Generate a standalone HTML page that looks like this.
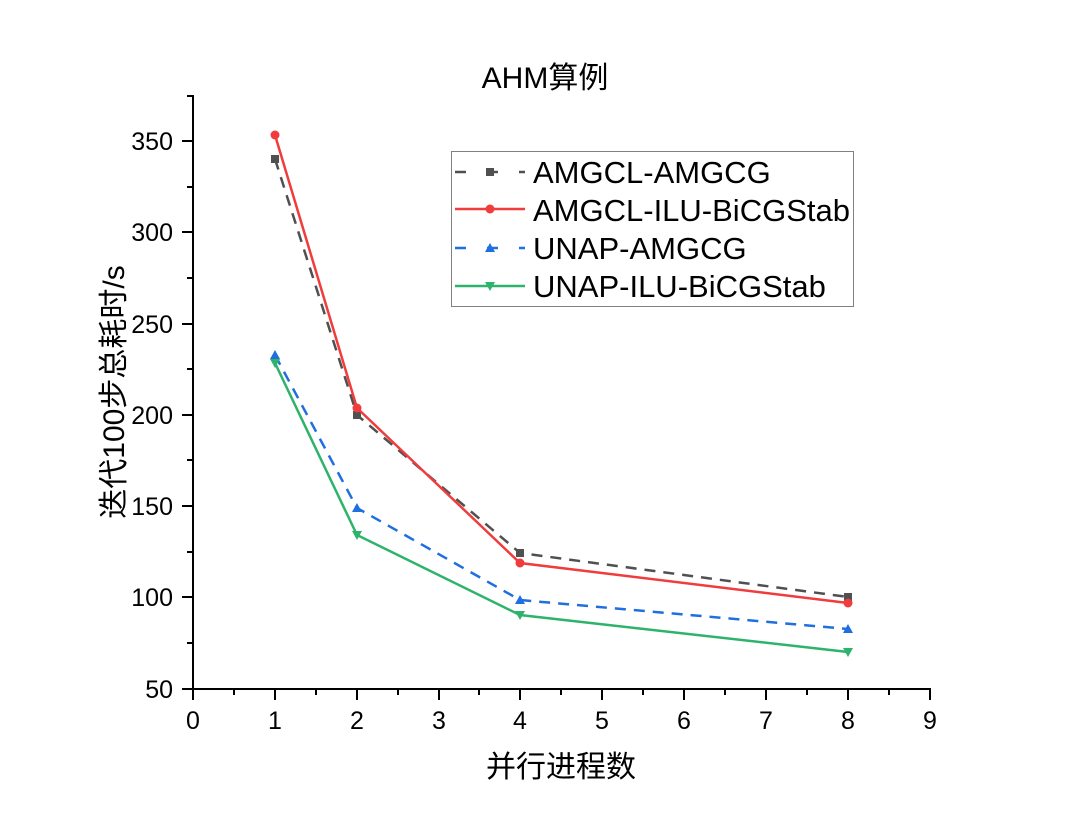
<!DOCTYPE html>
<html><head><meta charset="utf-8"><style>
html,body{margin:0;padding:0;background:#fff;}
svg text{font-family:"Liberation Sans","Noto Sans CJK SC",sans-serif;fill:#000;}
</style></head><body>
<svg width="1080" height="826" viewBox="0 0 1080 826" xmlns="http://www.w3.org/2000/svg">
<rect width="1080" height="826" fill="#fff"/>
<text x="545" y="88" font-size="30" text-anchor="middle">AHM算例</text>
<g stroke="#000" stroke-width="2" fill="none">
<line x1="193" y1="95" x2="193" y2="690"/>
<line x1="192" y1="689" x2="931" y2="689"/>
<line x1="193" y1="689" x2="193" y2="700"/><line x1="275" y1="689" x2="275" y2="700"/>
<line x1="357" y1="689" x2="357" y2="700"/><line x1="439" y1="689" x2="439" y2="700"/>
<line x1="520" y1="689" x2="520" y2="700"/><line x1="602" y1="689" x2="602" y2="700"/>
<line x1="684" y1="689" x2="684" y2="700"/><line x1="766" y1="689" x2="766" y2="700"/>
<line x1="848" y1="689" x2="848" y2="700"/><line x1="930" y1="689" x2="930" y2="700"/>
<line x1="234" y1="689" x2="234" y2="695"/><line x1="316" y1="689" x2="316" y2="695"/>
<line x1="398" y1="689" x2="398" y2="695"/><line x1="479" y1="689" x2="479" y2="695"/>
<line x1="561" y1="689" x2="561" y2="695"/><line x1="643" y1="689" x2="643" y2="695"/>
<line x1="725" y1="689" x2="725" y2="695"/><line x1="807" y1="689" x2="807" y2="695"/>
<line x1="889" y1="689" x2="889" y2="695"/>
<line x1="182" y1="689" x2="193" y2="689"/><line x1="182" y1="597" x2="193" y2="597"/>
<line x1="182" y1="506" x2="193" y2="506"/><line x1="182" y1="415" x2="193" y2="415"/>
<line x1="182" y1="324" x2="193" y2="324"/><line x1="182" y1="232" x2="193" y2="232"/>
<line x1="182" y1="141" x2="193" y2="141"/>
<line x1="187" y1="643" x2="193" y2="643"/><line x1="187" y1="552" x2="193" y2="552"/>
<line x1="187" y1="460" x2="193" y2="460"/><line x1="187" y1="369" x2="193" y2="369"/>
<line x1="187" y1="278" x2="193" y2="278"/><line x1="187" y1="187" x2="193" y2="187"/>
<line x1="187" y1="96" x2="193" y2="96"/>
</g>
<g font-size="25" text-anchor="middle">
<text x="193" y="729">0</text><text x="275" y="729">1</text><text x="357" y="729">2</text>
<text x="439" y="729">3</text><text x="520" y="729">4</text><text x="602" y="729">5</text>
<text x="684" y="729">6</text><text x="766" y="729">7</text><text x="848" y="729">8</text>
<text x="930" y="729">9</text>
</g>
<g font-size="25" text-anchor="end">
<text x="173" y="698">50</text><text x="173" y="606">100</text><text x="173" y="515">150</text>
<text x="173" y="424">200</text><text x="173" y="333">250</text><text x="173" y="241">300</text>
<text x="173" y="150">350</text>
</g>
<text x="561" y="777" font-size="30" text-anchor="middle">并行进程数</text>
<text transform="translate(124,392) rotate(-90)" font-size="30" text-anchor="middle">迭代100步总耗时/s</text>
<polyline points="275,159 357,415 520,553 848,597" fill="none" stroke="#505050" stroke-width="2.5" stroke-dasharray="11,8"/>
<g fill="#505050"><rect x="271" y="155" width="8" height="8"/><rect x="353" y="411" width="8" height="8"/><rect x="516" y="549" width="8" height="8"/><rect x="844" y="593" width="8" height="8"/></g>
<polyline points="275,135 357,408 520,563 848,603" fill="none" stroke="#f03c3c" stroke-width="2.5"/>
<g fill="#f03c3c"><circle cx="275" cy="135" r="4.5"/><circle cx="357" cy="408" r="4.5"/><circle cx="520" cy="563" r="4.5"/><circle cx="848" cy="603" r="4.5"/></g>
<polyline points="275,355 357,508 520,600 848,629" fill="none" stroke="#1f6fe0" stroke-width="2.5" stroke-dasharray="11,8"/>
<g fill="#1f6fe0"><path d="M275,350 l5,9 h-10z"/><path d="M357,503 l5,9 h-10z"/><path d="M520,595 l5,9 h-10z"/><path d="M848,624 l5,9 h-10z"/></g>
<polyline points="275,363 357,535 520,615 848,652" fill="none" stroke="#2db36b" stroke-width="2.5"/>
<g fill="#2db36b"><path d="M275,368 l5,-9 h-10z"/><path d="M357,540 l5,-9 h-10z"/><path d="M520,620 l5,-9 h-10z"/><path d="M848,657 l5,-9 h-10z"/></g>
<rect x="451.5" y="151.5" width="402" height="155" fill="#fff" stroke="#808080" stroke-width="1"/>
<line x1="455" y1="172" x2="525" y2="172" stroke="#505050" stroke-width="2.5" stroke-dasharray="11,21"/>
<rect x="486" y="168" width="8" height="8" fill="#505050"/>
<line x1="455" y1="209" x2="525" y2="209" stroke="#f03c3c" stroke-width="2.5"/>
<circle cx="490" cy="209" r="4.5" fill="#f03c3c"/>
<line x1="455" y1="248" x2="525" y2="248" stroke="#1f6fe0" stroke-width="2.5" stroke-dasharray="11,21"/>
<path d="M490,243 l5,9 h-10z" fill="#1f6fe0"/>
<line x1="455" y1="286" x2="525" y2="286" stroke="#2db36b" stroke-width="2.5"/>
<path d="M490,291 l5,-9 h-10z" fill="#2db36b"/>
<g font-size="31">
<text x="533" y="183">AMGCL-AMGCG</text>
<text x="533" y="221">AMGCL-ILU-BiCGStab</text>
<text x="533" y="259">UNAP-AMGCG</text>
<text x="533" y="297">UNAP-ILU-BiCGStab</text>
</g>
</svg>
</body></html>
